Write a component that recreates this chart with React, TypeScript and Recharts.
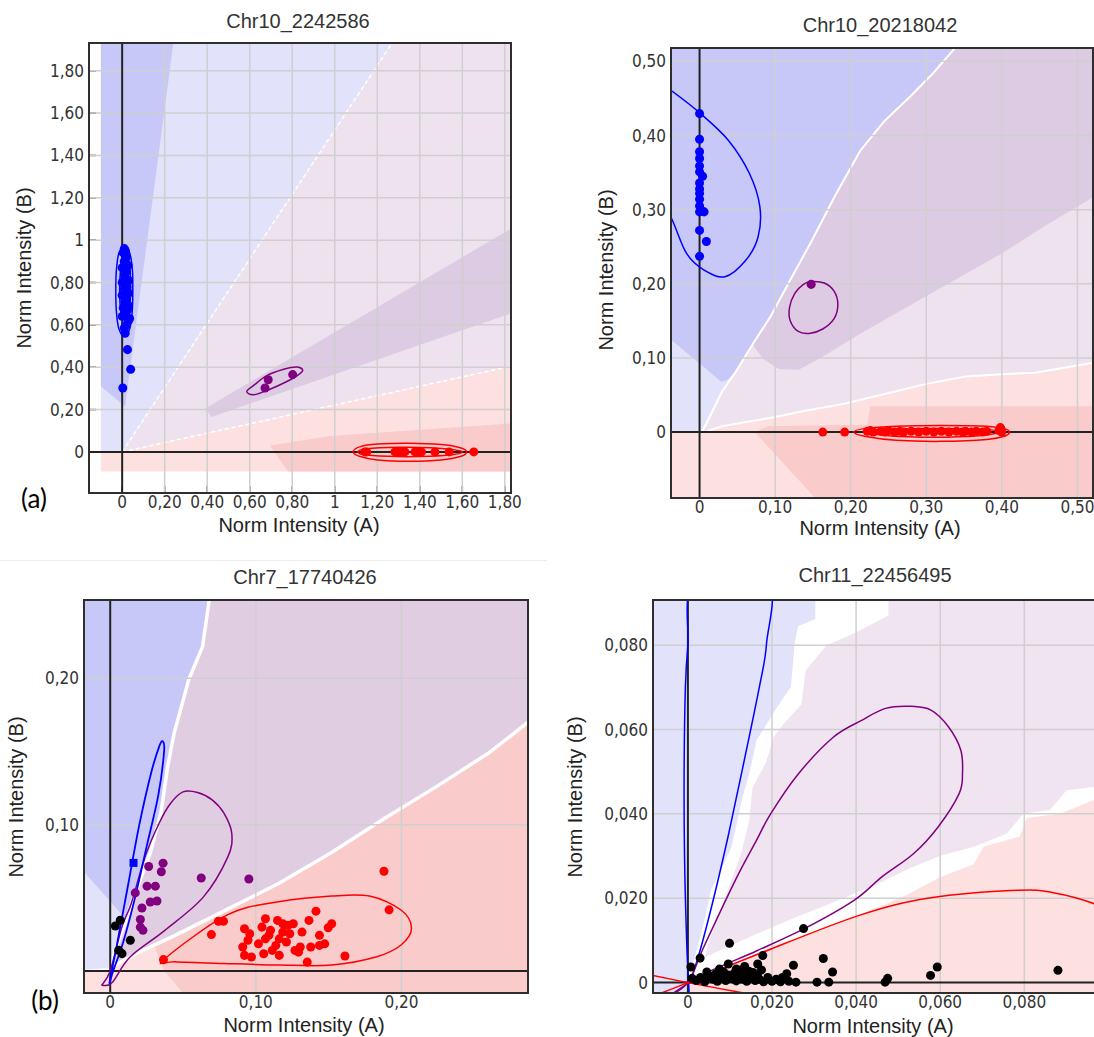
import React from 'react';
import { ScatterChart, Scatter, XAxis, YAxis, ZAxis } from 'recharts';

type Pt = { x: number; y: number };

// ================= Panel 1 : Chr10_2242586 =================
const p1Title = 'Chr10_2242586';
const p1XDomain: [number, number] = [-0.156, 1.829];
const p1YDomain: [number, number] = [-0.194, 1.931];
const p1XTicks = [0, 0.2, 0.4, 0.6, 0.8, 1, 1.2, 1.4, 1.6, 1.8];
const p1XTickLabels = ['0', '0,20', '0,40', '0,60', '0,80', '1', '1,20', '1,40', '1,60', '1,80'];
const p1YTicks = [0, 0.2, 0.4, 0.6, 0.8, 1, 1.2, 1.4, 1.6, 1.8];
const p1YTickLabels = ['0', '0,20', '0,40', '0,60', '0,80', '1', '1,20', '1,40', '1,60', '1,80'];

const p1LavenderRegion: Pt[] = [
  { x: -0.1, y: 0 }, { x: 0, y: 0 }, { x: 1.27, y: 1.931 }, { x: -0.1, y: 1.931 },
];
const p1LightPurpleRegion: Pt[] = [
  { x: 0, y: 0 }, { x: 1.83, y: 0.405 }, { x: 1.83, y: 1.931 }, { x: 1.27, y: 1.931 },
];
const p1LightPinkRegion: Pt[] = [
  { x: -0.1, y: -0.093 }, { x: 1.83, y: -0.093 }, { x: 1.83, y: 0.405 }, { x: 0, y: 0 }, { x: -0.1, y: 0 },
];
const p1BlueWedge: Pt[] = [
  { x: -0.1, y: 1.931 }, { x: 0.241, y: 1.931 }, { x: 0.131, y: 1.1 }, { x: 0.014, y: 0.215 }, { x: -0.1, y: 0.31 },
];
const p1PurpleBand: Pt[] = [
  { x: 0.39, y: 0.205 }, { x: 1.83, y: 1.055 }, { x: 1.83, y: 0.655 }, { x: 0.42, y: 0.165 },
];
const p1PinkBlock: Pt[] = [
  { x: 0.695, y: 0.03 }, { x: 0.98, y: 0.075 }, { x: 1.83, y: 0.135 }, { x: 1.83, y: -0.093 }, { x: 0.78, y: -0.093 },
];
const p1Boundary1: Pt[] = [{ x: 0, y: 0 }, { x: 1.27, y: 1.931 }];
const p1Boundary2: Pt[] = [{ x: 0, y: 0 }, { x: 1.83, y: 0.405 }];

const p1BlueDots: Pt[] = [
  { x: 0.003, y: 0.302 }, { x: 0.04, y: 0.39 }, { x: 0.025, y: 0.483 }, { x: 0.014, y: 0.56 },
  { x: 0.01, y: 0.585 }, { x: 0.02, y: 0.6 }, { x: 0.03, y: 0.62 }, { x: 0.035, y: 0.63 },
  { x: 0.0, y: 0.64 }, { x: 0.015, y: 0.65 }, { x: 0.025, y: 0.67 }, { x: 0.005, y: 0.68 },
  { x: 0.03, y: 0.69 }, { x: 0.012, y: 0.71 }, { x: 0.02, y: 0.72 }, { x: 0.0, y: 0.74 },
  { x: 0.03, y: 0.75 }, { x: 0.01, y: 0.77 }, { x: 0.022, y: 0.78 }, { x: 0.0, y: 0.8 },
  { x: 0.03, y: 0.81 }, { x: 0.012, y: 0.83 }, { x: 0.02, y: 0.85 }, { x: 0.0, y: 0.87 },
  { x: 0.028, y: 0.88 }, { x: 0.01, y: 0.9 }, { x: 0.02, y: 0.92 }, { x: 0.005, y: 0.94 },
  { x: 0.015, y: 0.95 }, { x: 0.01, y: 0.96 },
];
const p1BlueEllipseOuter: Pt[] = [
  { x: 0.01, y: 0.965 }, { x: 0.035, y: 0.94 }, { x: 0.048, y: 0.86 }, { x: 0.05, y: 0.76 },
  { x: 0.047, y: 0.66 }, { x: 0.035, y: 0.58 }, { x: 0.01, y: 0.548 }, { x: -0.015, y: 0.58 },
  { x: -0.027, y: 0.66 }, { x: -0.03, y: 0.76 }, { x: -0.027, y: 0.86 }, { x: -0.015, y: 0.94 },
];
const p1BlueEllipseInner: Pt[] = [
  { x: 0.012, y: 0.93 }, { x: 0.032, y: 0.9 }, { x: 0.04, y: 0.8 }, { x: 0.037, y: 0.7 },
  { x: 0.025, y: 0.635 }, { x: 0.008, y: 0.625 }, { x: -0.006, y: 0.66 }, { x: -0.012, y: 0.76 },
  { x: -0.008, y: 0.86 }, { x: 0.0, y: 0.915 },
];
const p1PurpleDots: Pt[] = [
  { x: 0.687, y: 0.341 }, { x: 0.672, y: 0.302 }, { x: 0.802, y: 0.365 },
];
const p1PurpleEllipse: Pt[] = [
  { x: 0.586, y: 0.285 }, { x: 0.62, y: 0.315 }, { x: 0.68, y: 0.36 }, { x: 0.76, y: 0.39 },
  { x: 0.82, y: 0.401 }, { x: 0.849, y: 0.387 }, { x: 0.83, y: 0.365 }, { x: 0.77, y: 0.33 },
  { x: 0.695, y: 0.296 }, { x: 0.62, y: 0.27 },
];
const p1RedDots: Pt[] = [
  { x: 1.142, y: 0 }, { x: 1.15, y: 0 }, { x: 1.283, y: 0 }, { x: 1.3, y: 0 }, { x: 1.307, y: 0 },
  { x: 1.32, y: 0 }, { x: 1.33, y: 0 }, { x: 1.377, y: 0 }, { x: 1.393, y: 0 }, { x: 1.4, y: 0 },
  { x: 1.408, y: 0 }, { x: 1.471, y: 0 }, { x: 1.538, y: 0 }, { x: 1.654, y: 0 },
];
const p1RedEllipseOuter: Pt[] = [
  { x: 1.087, y: 0 }, { x: 1.12, y: 0.025 }, { x: 1.2, y: 0.037 }, { x: 1.35, y: 0.041 },
  { x: 1.5, y: 0.035 }, { x: 1.59, y: 0.02 }, { x: 1.62, y: 0 }, { x: 1.59, y: -0.022 },
  { x: 1.5, y: -0.038 }, { x: 1.35, y: -0.044 }, { x: 1.2, y: -0.038 }, { x: 1.12, y: -0.022 },
];
const p1RedEllipseInner: Pt[] = [
  { x: 1.11, y: 0 }, { x: 1.15, y: 0.015 }, { x: 1.3, y: 0.022 }, { x: 1.45, y: 0.02 },
  { x: 1.56, y: 0.01 }, { x: 1.6, y: 0 }, { x: 1.56, y: -0.012 }, { x: 1.45, y: -0.02 },
  { x: 1.3, y: -0.022 }, { x: 1.15, y: -0.015 },
];

// ================= Panel 2 : Chr10_20218042 =================
const p2Title = 'Chr10_20218042';
const p2XDomain: [number, number] = [-0.0378, 0.5206];
const p2YDomain: [number, number] = [-0.0889, 0.518];
const p2XTicks = [0, 0.1, 0.2, 0.3, 0.4, 0.5];
const p2XTickLabels = ['0', '0,10', '0,20', '0,30', '0,40', '0,50'];
const p2YTicks = [0, 0.1, 0.2, 0.3, 0.4, 0.5];
const p2YTickLabels = ['0', '0,10', '0,20', '0,30', '0,40', '0,50'];

const p2LavenderBase: Pt[] = [
  { x: -0.05, y: 0 }, { x: 0.55, y: 0 }, { x: 0.55, y: 0.53 }, { x: -0.05, y: 0.53 },
];
const p2Curve1: Pt[] = [
  { x: 0.003, y: 0 }, { x: 0.007, y: 0.0075 }, { x: 0.016, y: 0.026 }, { x: 0.03, y: 0.055 },
  { x: 0.047, y: 0.08 }, { x: 0.07, y: 0.118 }, { x: 0.094, y: 0.156 }, { x: 0.12, y: 0.205 },
  { x: 0.149, y: 0.259 }, { x: 0.18, y: 0.32 }, { x: 0.213, y: 0.38 }, { x: 0.245, y: 0.42 },
  { x: 0.278, y: 0.452 }, { x: 0.31, y: 0.485 }, { x: 0.338, y: 0.518 }, { x: 0.348, y: 0.53 },
];
const p2Curve2: Pt[] = [
  { x: 0.006, y: 0 }, { x: 0.03, y: 0.008 }, { x: 0.058, y: 0.013 }, { x: 0.098, y: 0.02 },
  { x: 0.142, y: 0.029 }, { x: 0.19, y: 0.038 }, { x: 0.26, y: 0.055 }, { x: 0.3, y: 0.065 },
  { x: 0.352, y: 0.075 }, { x: 0.4, y: 0.078 }, { x: 0.444, y: 0.08 }, { x: 0.49, y: 0.088 },
  { x: 0.55, y: 0.099 },
];
const p2LightPurpleRegion: Pt[] = [
  ...p2Curve1, { x: 0.55, y: 0.53 }, ...[...p2Curve2].reverse(),
];
const p2LightPinkRegion: Pt[] = [
  { x: -0.05, y: -0.1 }, { x: 0.55, y: -0.1 }, ...[...p2Curve2].reverse(), { x: -0.05, y: 0 },
];
const p2BlueRegion: Pt[] = [
  { x: -0.05, y: 0.53 }, { x: 0.348, y: 0.53 }, { x: 0.338, y: 0.518 }, { x: 0.31, y: 0.485 },
  { x: 0.278, y: 0.452 }, { x: 0.245, y: 0.42 }, { x: 0.213, y: 0.38 }, { x: 0.18, y: 0.32 },
  { x: 0.149, y: 0.259 }, { x: 0.12, y: 0.205 }, { x: 0.094, y: 0.156 }, { x: 0.07, y: 0.118 },
  { x: 0.047, y: 0.08 }, { x: 0.036, y: 0.07 }, { x: 0.029, y: 0.068 }, { x: -0.05, y: 0.135 },
];
const p2PurpleBand: Pt[] = [
  { x: 0.07, y: 0.118 }, { x: 0.094, y: 0.156 }, { x: 0.12, y: 0.205 }, { x: 0.149, y: 0.259 },
  { x: 0.18, y: 0.32 }, { x: 0.213, y: 0.38 }, { x: 0.245, y: 0.42 }, { x: 0.278, y: 0.452 },
  { x: 0.31, y: 0.485 }, { x: 0.338, y: 0.518 }, { x: 0.348, y: 0.53 }, { x: 0.55, y: 0.53 },
  { x: 0.55, y: 0.325 }, { x: 0.521, y: 0.317 }, { x: 0.46, y: 0.28 }, { x: 0.4, y: 0.241 },
  { x: 0.306, y: 0.187 }, { x: 0.213, y: 0.133 }, { x: 0.16, y: 0.1 }, { x: 0.131, y: 0.084 },
  { x: 0.105, y: 0.085 }, { x: 0.085, y: 0.098 },
];
const p2PinkBlock: Pt[] = [
  { x: 0.073, y: 0 }, { x: 0.09, y: 0.008 }, { x: 0.14, y: 0.009 }, { x: 0.222, y: 0.01 },
  { x: 0.226, y: 0.035 }, { x: 0.55, y: 0.035 }, { x: 0.55, y: -0.1 }, { x: 0.163, y: -0.1 },
];
const p2BlueDots: Pt[] = [
  { x: 0, y: 0.4295 }, { x: 0, y: 0.395 }, { x: 0, y: 0.378 }, { x: 0, y: 0.369 }, { x: 0, y: 0.359 },
  { x: 0, y: 0.351 }, { x: 0.004, y: 0.345 }, { x: 0, y: 0.336 }, { x: 0, y: 0.328 }, { x: 0, y: 0.322 },
  { x: 0, y: 0.314 }, { x: 0, y: 0.305 }, { x: 0, y: 0.297 }, { x: 0.006, y: 0.297 }, { x: 0.002, y: 0.299 },
  { x: 0, y: 0.272 }, { x: 0.009, y: 0.257 }, { x: 0, y: 0.237 },
];
const p2BlueEllipse: Pt[] = [
  { x: 0.0014, y: 0.4295 }, { x: 0.038, y: 0.3936 }, { x: 0.066, y: 0.3487 }, { x: 0.0798, y: 0.3038 },
  { x: 0.0775, y: 0.2634 }, { x: 0.0614, y: 0.232 }, { x: 0.0337, y: 0.2095 }, { x: 0.006, y: 0.2185 },
  { x: -0.0172, y: 0.241 }, { x: -0.038, y: 0.29 }, { x: -0.065, y: 0.34 }, { x: -0.09, y: 0.41 },
  { x: -0.085, y: 0.47 }, { x: -0.06, y: 0.475 }, { x: -0.038, y: 0.461 },
];
const p2PurpleDots: Pt[] = [{ x: 0.1477, y: 0.1992 }];
const p2PurpleEllipse: Pt[] = [
  { x: 0.148, y: 0.203 }, { x: 0.165, y: 0.201 }, { x: 0.178, y: 0.19 }, { x: 0.183, y: 0.172 },
  { x: 0.178, y: 0.153 }, { x: 0.163, y: 0.139 }, { x: 0.145, y: 0.133 }, { x: 0.13, y: 0.136 },
  { x: 0.12, y: 0.15 }, { x: 0.119, y: 0.168 }, { x: 0.126, y: 0.187 }, { x: 0.137, y: 0.199 },
];
const p2RedDots: Pt[] = [
  { x: 0.163, y: 0 }, { x: 0.192, y: 0 }, { x: 0.222, y: 0.001 }, { x: 0.226, y: 0.002 }, { x: 0.23, y: 0 },
  { x: 0.24, y: 0.001 }, { x: 0.245, y: 0 }, { x: 0.25, y: 0.002 }, { x: 0.258, y: 0 }, { x: 0.265, y: 0.001 },
  { x: 0.27, y: 0 }, { x: 0.28, y: 0.001 }, { x: 0.29, y: 0 }, { x: 0.3, y: 0.001 }, { x: 0.31, y: 0 },
  { x: 0.32, y: 0.001 }, { x: 0.33, y: 0 }, { x: 0.34, y: 0.001 }, { x: 0.348, y: 0 }, { x: 0.352, y: 0.001 },
  { x: 0.36, y: 0 }, { x: 0.366, y: 0.001 }, { x: 0.375, y: 0 }, { x: 0.38, y: 0.001 }, { x: 0.396, y: 0.002 },
  { x: 0.398, y: 0.006 }, { x: 0.4, y: 0 }, { x: 0.399, y: 0.004 },
];
const p2RedEllipseOuter: Pt[] = [
  { x: 0.204, y: 0 }, { x: 0.22, y: 0.005 }, { x: 0.26, y: 0.008 }, { x: 0.32, y: 0.009 },
  { x: 0.38, y: 0.008 }, { x: 0.405, y: 0.004 }, { x: 0.41, y: 0 }, { x: 0.405, y: -0.005 },
  { x: 0.38, y: -0.01 }, { x: 0.32, y: -0.0125 }, { x: 0.26, y: -0.011 }, { x: 0.22, y: -0.006 },
];
const p2RedEllipseInner: Pt[] = [
  { x: 0.225, y: 0 }, { x: 0.25, y: 0.004 }, { x: 0.31, y: 0.005 }, { x: 0.37, y: 0.004 },
  { x: 0.395, y: 0 }, { x: 0.37, y: -0.005 }, { x: 0.31, y: -0.007 }, { x: 0.25, y: -0.005 },
];

// ================= Panel 3 : Chr7_17740426 =================
const p3Title = 'Chr7_17740426';
const p3XDomain: [number, number] = [-0.018, 0.2869];
const p3YDomain: [number, number] = [-0.015, 0.2535];
const p3XTicks = [0, 0.1, 0.2];
const p3XTickLabels = ['0', '0,10', '0,20'];
const p3YTicks = [0.1, 0.2];
const p3YTickLabels = ['0,10', '0,20'];

const p3Curve1: Pt[] = [
  { x: 0.0, y: 0.002 }, { x: 0.0036, y: 0.0146 }, { x: 0.011, y: 0.035 }, { x: 0.0156, y: 0.049 },
  { x: 0.0276, y: 0.081 }, { x: 0.0348, y: 0.108 }, { x: 0.0395, y: 0.14 }, { x: 0.044, y: 0.163 },
  { x: 0.049, y: 0.181 }, { x: 0.0539, y: 0.199 }, { x: 0.0634, y: 0.2216 }, { x: 0.068, y: 0.2535 },
  { x: 0.07, y: 0.27 },
];
const p3Curve2: Pt[] = [
  { x: 0.003, y: 0.004 }, { x: 0.02, y: 0.013 }, { x: 0.044, y: 0.024 }, { x: 0.08, y: 0.042 },
  { x: 0.116, y: 0.06 }, { x: 0.152, y: 0.081 }, { x: 0.188, y: 0.104 }, { x: 0.224, y: 0.126 },
  { x: 0.26, y: 0.149 }, { x: 0.287, y: 0.17 }, { x: 0.3, y: 0.178 },
];
const p3LightPinkRegion: Pt[] = [
  { x: -0.03, y: -0.03 }, { x: 0.3, y: -0.03 }, ...[...p3Curve2].reverse(), { x: 0, y: 0 }, { x: -0.03, y: 0 },
];
const p3LavenderRegion: Pt[] = [
  { x: -0.03, y: 0 }, { x: 0, y: 0.002 }, { x: 0.0036, y: 0.0146 }, { x: 0.011, y: 0.035 },
  { x: -0.018, y: 0.0677 }, { x: -0.03, y: 0.08 },
];
const p3BlueRegion: Pt[] = [
  { x: -0.03, y: 0.08 }, { x: -0.018, y: 0.0677 }, { x: 0.011, y: 0.035 }, { x: 0.0156, y: 0.049 },
  { x: 0.0276, y: 0.081 }, { x: 0.0348, y: 0.108 }, { x: 0.0395, y: 0.14 }, { x: 0.044, y: 0.163 },
  { x: 0.049, y: 0.181 }, { x: 0.0539, y: 0.199 }, { x: 0.0634, y: 0.2216 }, { x: 0.068, y: 0.2535 },
  { x: 0.07, y: 0.27 }, { x: -0.03, y: 0.27 },
];
const p3PurpleRegion: Pt[] = [
  ...[...p3Curve1].reverse(), ...p3Curve2, { x: 0.3, y: 0.27 },
];
const p3PinkBlock: Pt[] = [
  { x: 0.03, y: 0.0185 }, { x: 0.044, y: 0.024 }, { x: 0.08, y: 0.042 }, { x: 0.116, y: 0.06 },
  { x: 0.152, y: 0.081 }, { x: 0.188, y: 0.104 }, { x: 0.224, y: 0.126 }, { x: 0.26, y: 0.149 },
  { x: 0.287, y: 0.17 }, { x: 0.3, y: 0.178 }, { x: 0.3, y: -0.03 }, { x: 0.063, y: -0.03 }, { x: 0.037, y: 0 },
];
const p3PurpleDots: Pt[] = [
  { x: 0.0264, y: 0.0714 }, { x: 0.0363, y: 0.0737 }, { x: 0.0351, y: 0.0678 }, { x: 0.0625, y: 0.0636 },
  { x: 0.0952, y: 0.0629 }, { x: 0.0172, y: 0.0534 }, { x: 0.0253, y: 0.058 }, { x: 0.031, y: 0.058 },
  { x: 0.0218, y: 0.0431 }, { x: 0.0275, y: 0.0472 }, { x: 0.0321, y: 0.0479 }, { x: 0.0207, y: 0.0352 },
  { x: 0.0207, y: 0.03 }, { x: 0.0225, y: 0.0278 },
];
const p3BlackDots: Pt[] = [
  { x: 0.0035, y: 0.0308 }, { x: 0.0069, y: 0.0347 }, { x: 0.0138, y: 0.021 }, { x: 0.0058, y: 0.0142 },
  { x: 0.0081, y: 0.0119 },
];
const p3BlueDots: Pt[] = [{ x: 0.016, y: 0.0739 }];
const p3BlueLoop: Pt[] = [
  { x: -0.0004, y: -0.0075 }, { x: 0.005, y: 0.02 }, { x: 0.0125, y: 0.06 }, { x: 0.02, y: 0.1 },
  { x: 0.028, y: 0.135 }, { x: 0.0335, y: 0.153 }, { x: 0.036, y: 0.157 }, { x: 0.037, y: 0.15 },
  { x: 0.033, y: 0.12 }, { x: 0.025, y: 0.085 }, { x: 0.017, y: 0.05 }, { x: 0.009, y: 0.02 },
  { x: 0.002, y: 0.0 },
];
const p3PurpleLoop: Pt[] = [
  { x: -0.006, y: -0.0098 }, { x: 0.0, y: 0.0 }, { x: 0.008, y: 0.03 }, { x: 0.0144, y: 0.046 },
  { x: 0.0239, y: 0.078 }, { x: 0.0335, y: 0.1008 }, { x: 0.041, y: 0.114 }, { x: 0.05, y: 0.1224 },
  { x: 0.06, y: 0.122 }, { x: 0.07, y: 0.117 }, { x: 0.078, y: 0.108 }, { x: 0.0835, y: 0.094 },
  { x: 0.0807, y: 0.0778 }, { x: 0.0639, y: 0.0505 }, { x: 0.0375, y: 0.0278 }, { x: 0.0136, y: 0.0096 },
  { x: 0.0012, y: -0.008 }, { x: -0.006, y: -0.0098 },
];
const p3RedDots: Pt[] = [
  { x: 0.188, y: 0.0682 }, { x: 0.1915, y: 0.0418 }, { x: 0.0366, y: 0.0078 }, { x: 0.0695, y: 0.0249 },
  { x: 0.0743, y: 0.034 }, { x: 0.0778, y: 0.034 }, { x: 0.1612, y: 0.0103 }, { x: 0.1413, y: 0.0409 },
  { x: 0.1365, y: 0.0346 }, { x: 0.1521, y: 0.0323 }, { x: 0.1497, y: 0.0296 }, { x: 0.1437, y: 0.0244 },
  { x: 0.1473, y: 0.0186 }, { x: 0.1437, y: 0.0175 }, { x: 0.1353, y: 0.0061 }, { x: 0.1305, y: 0.0164 },
  { x: 0.1377, y: 0.0164 }, { x: 0.1257, y: 0.0323 }, { x: 0.1233, y: 0.0255 }, { x: 0.1185, y: 0.0323 },
  { x: 0.1149, y: 0.0346 }, { x: 0.1066, y: 0.0357 }, { x: 0.1042, y: 0.03 }, { x: 0.1101, y: 0.0278 },
  { x: 0.1161, y: 0.022 }, { x: 0.121, y: 0.0198 }, { x: 0.1137, y: 0.0175 }, { x: 0.1066, y: 0.022 },
  { x: 0.1054, y: 0.0118 }, { x: 0.1161, y: 0.0107 }, { x: 0.1269, y: 0.0141 }, { x: 0.0922, y: 0.0289 },
  { x: 0.0958, y: 0.0255 }, { x: 0.091, y: 0.0164 }, { x: 0.0946, y: 0.021 }, { x: 0.0922, y: 0.0107 },
  { x: 0.097, y: 0.0096 }, { x: 0.109, y: 0.0244 }, { x: 0.1185, y: 0.0266 }, { x: 0.1221, y: 0.0312 },
  { x: 0.1317, y: 0.0266 }, { x: 0.1293, y: 0.0129 }, { x: 0.1113, y: 0.0141 }, { x: 0.1018, y: 0.0186 },
];
const p3RedEllipse: Pt[] = [
  { x: 0.0366, y: 0.0076 }, { x: 0.08, y: 0.0382 }, { x: 0.1157, y: 0.0473 }, { x: 0.152, y: 0.0512 },
  { x: 0.178, y: 0.0512 }, { x: 0.1997, y: 0.0417 }, { x: 0.2069, y: 0.0292 }, { x: 0.1997, y: 0.0178 },
  { x: 0.183, y: 0.0098 }, { x: 0.152, y: 0.0041 }, { x: 0.116, y: 0.0041 }, { x: 0.0778, y: 0.0052 },
  { x: 0.0446, y: 0.0064 },
];

// ================= Panel 4 : Chr11_22456495 =================
const p4Title = 'Chr11_22456495';
const p4XDomain: [number, number] = [-0.0083, 0.098];
const p4YDomain: [number, number] = [-0.00247, 0.0907];
const p4XTicks = [0, 0.02, 0.04, 0.06, 0.08];
const p4XTickLabels = ['0', '0,020', '0,040', '0,060', '0,080'];
const p4YTicks = [0, 0.02, 0.04, 0.06, 0.08];
const p4YTickLabels = ['0', '0,020', '0,040', '0,060', '0,080'];

const p4LavenderRegion: Pt[] = [
  { x: -0.01, y: -0.005 }, { x: -0.01, y: 0.095 }, { x: 0.0303, y: 0.095 }, { x: 0.0303, y: 0.0862 },
  { x: 0.0262, y: 0.0845 }, { x: 0.0254, y: 0.0804 }, { x: 0.0245, y: 0.0701 }, { x: 0.0212, y: 0.0653 },
  { x: 0.0163, y: 0.0574 }, { x: 0.0146, y: 0.0495 }, { x: 0.013, y: 0.044 }, { x: 0.0104, y: 0.0322 },
  { x: 0.008, y: 0.027 }, { x: 0.0055, y: 0.022 }, { x: 0.004, y: 0.015 }, { x: 0.0015, y: 0.0055 },
  { x: 0.0, y: 0.003 }, { x: 0.0, y: -0.005 },
];
const p4PurpleRegion: Pt[] = [
  { x: 0.0477, y: 0.095 }, { x: 0.0477, y: 0.087 }, { x: 0.04, y: 0.083 }, { x: 0.033, y: 0.08 },
  { x: 0.028, y: 0.074 }, { x: 0.027, y: 0.066 }, { x: 0.0225, y: 0.061 }, { x: 0.0204, y: 0.0582 },
  { x: 0.0185, y: 0.052 }, { x: 0.0154, y: 0.0463 }, { x: 0.0145, y: 0.038 }, { x: 0.0125, y: 0.03 },
  { x: 0.0104, y: 0.0244 }, { x: 0.008, y: 0.018 }, { x: 0.0054, y: 0.0109 }, { x: 0.004, y: 0.006 },
  { x: 0.0163, y: 0.0115 }, { x: 0.0245, y: 0.015 }, { x: 0.0345, y: 0.019 }, { x: 0.0453, y: 0.0235 },
  { x: 0.0525, y: 0.027 }, { x: 0.0599, y: 0.03 }, { x: 0.068, y: 0.0322 }, { x: 0.0758, y: 0.0353 },
  { x: 0.0798, y: 0.0401 }, { x: 0.0861, y: 0.0409 }, { x: 0.0901, y: 0.0456 }, { x: 0.0966, y: 0.0464 },
  { x: 0.105, y: 0.047 }, { x: 0.105, y: 0.095 },
];
const p4PinkRegion: Pt[] = [
  { x: 0.002, y: 0.0 }, { x: 0.01, y: 0.004 }, { x: 0.0202, y: 0.0088 }, { x: 0.0314, y: 0.0122 },
  { x: 0.0409, y: 0.016 }, { x: 0.0525, y: 0.021 }, { x: 0.0599, y: 0.025 }, { x: 0.0679, y: 0.028 },
  { x: 0.0703, y: 0.0322 }, { x: 0.0789, y: 0.0346 }, { x: 0.0805, y: 0.039 }, { x: 0.0885, y: 0.04 },
  { x: 0.0966, y: 0.0433 }, { x: 0.105, y: 0.044 }, { x: 0.105, y: -0.005 }, { x: 0.0, y: -0.005 },
  { x: 0.0, y: 0.0 },
];
const p4BlueLoop: Pt[] = [
  { x: 0.0003, y: -0.0025 }, { x: -0.0003, y: 0.01 }, { x: -0.0008, y: 0.03 }, { x: -0.0009, y: 0.05 },
  { x: -0.0006, y: 0.07 }, { x: 0.0, y: 0.08 }, { x: 0.0017, y: 0.095 }, { x: 0.0188, y: 0.095 },
  { x: 0.0187, y: 0.0804 }, { x: 0.017, y: 0.0701 }, { x: 0.0129, y: 0.0503 }, { x: 0.0095, y: 0.0344 },
  { x: 0.0062, y: 0.0203 }, { x: 0.0029, y: 0.0076 }, { x: 0.0004, y: -0.0003 },
];
const p4PurpleLoop: Pt[] = [
  { x: -0.005, y: -0.0035 }, { x: 0.0, y: 0.0 }, { x: 0.0038, y: 0.0085 }, { x: 0.0113, y: 0.0243 },
  { x: 0.0163, y: 0.0337 }, { x: 0.0196, y: 0.0399 }, { x: 0.0262, y: 0.0494 }, { x: 0.0345, y: 0.0581 },
  { x: 0.0412, y: 0.0621 }, { x: 0.047, y: 0.065 }, { x: 0.0528, y: 0.0655 }, { x: 0.0578, y: 0.0646 },
  { x: 0.062, y: 0.0606 }, { x: 0.0649, y: 0.0551 }, { x: 0.0653, y: 0.0496 }, { x: 0.0645, y: 0.0448 },
  { x: 0.0595, y: 0.0369 }, { x: 0.0537, y: 0.0306 }, { x: 0.0462, y: 0.0251 }, { x: 0.0395, y: 0.0195 },
  { x: 0.0279, y: 0.0129 }, { x: 0.0163, y: 0.0075 }, { x: 0.0038, y: 0.002 }, { x: -0.005, y: -0.0035 },
];
const p4RedUpper: Pt[] = [
  { x: -0.009, y: -0.0035 }, { x: 0.0, y: 0.0 }, { x: 0.0163, y: 0.0066 }, { x: 0.0409, y: 0.016 },
  { x: 0.0578, y: 0.0201 }, { x: 0.0786, y: 0.0219 }, { x: 0.0869, y: 0.0213 }, { x: 0.0966, y: 0.0187 },
  { x: 0.104, y: 0.015 },
];
const p4RedLower: Pt[] = [
  { x: -0.01, y: 0.002 }, { x: 0.0, y: 0.0 }, { x: 0.0139, y: -0.0026 }, { x: 0.02, y: -0.0037 },
];
const p4BlackDots: Pt[] = [
  { x: 0.0275, y: 0.0128 }, { x: 0.0099, y: 0.0093 }, { x: 0.0029, y: 0.0058 }, { x: 0.0007, y: 0.0037 },
  { x: 0.0178, y: 0.0064 }, { x: 0.0166, y: 0.0044 }, { x: 0.0251, y: 0.0041 }, { x: 0.0322, y: 0.0057 },
  { x: 0.0344, y: 0.0025 }, { x: 0.0593, y: 0.0037 }, { x: 0.0577, y: 0.0017 }, { x: 0.088, y: 0.0029 },
  { x: 0.0469, y: 0.0001 }, { x: 0.0475, y: 0.001 }, { x: 0.0307, y: 0.0001 }, { x: 0.0335, y: 0.0001 },
  { x: 0.0257, y: 0.0001 }, { x: 0.0235, y: 0.0021 }, { x: 0.0096, y: 0.0044 },
  { x: 0.001, y: 0.001 }, { x: 0.002, y: 0.0005 }, { x: 0.003, y: 0.0012 }, { x: 0.004, y: 0.0002 },
  { x: 0.005, y: 0.0015 }, { x: 0.006, y: 0.0008 }, { x: 0.0065, y: 0.002 }, { x: 0.007, y: 0.0003 },
  { x: 0.008, y: 0.0012 }, { x: 0.0085, y: 0.0025 }, { x: 0.009, y: 0.0005 }, { x: 0.0095, y: 0.0018 },
  { x: 0.0105, y: 0.0009 }, { x: 0.011, y: 0.0022 }, { x: 0.0115, y: 0.0004 }, { x: 0.012, y: 0.0015 },
  { x: 0.0125, y: 0.003 }, { x: 0.013, y: 0.0008 }, { x: 0.0135, y: 0.002 }, { x: 0.014, y: 0.0003 },
  { x: 0.0145, y: 0.0027 }, { x: 0.015, y: 0.0012 }, { x: 0.0155, y: 0.0024 }, { x: 0.016, y: 0.0005 },
  { x: 0.0165, y: 0.0018 }, { x: 0.017, y: 0.0008 }, { x: 0.0175, y: 0.003 }, { x: 0.018, y: 0.0002 },
  { x: 0.019, y: 0.0012 }, { x: 0.02, y: 0.0003 }, { x: 0.021, y: 0.0008 }, { x: 0.022, y: 0.0002 },
  { x: 0.0225, y: 0.0012 }, { x: 0.024, y: 0.0003 }, { x: 0.0045, y: 0.0025 }, { x: 0.0075, y: 0.0032 },
  { x: 0.0115, y: 0.0032 }, { x: 0.0135, y: 0.0038 },
];

// ================= colours =================
const C = {
  lavender: '#e2e2fa',
  blueDark: '#c8c8f8',
  purpleLight: '#eee2ef',
  purpleDark: '#ddcae3',
  pinkLight: '#fde1e1',
  pinkDark: '#f9cbcb',
  grid: '#cfcfcf',
  axis: '#222222',
  blue: '#0000ff',
  purple: '#800080',
  red: '#ff0000',
  black: '#000000',
};

// ================= rendering helpers =================
type Layer =
  | { kind: 'fill'; data: Pt[]; color: string }
  | { kind: 'line'; data: Pt[]; color: string; width: number; closed?: boolean; smooth?: boolean; dash?: string }
  | { kind: 'dots'; data: Pt[]; color: string; shape?: 'circle' | 'square' };

function buildPath(pts: { x: number; y: number }[], closed: boolean, smooth: boolean): string {
  const p = pts.filter((q) => q && Number.isFinite(q.x) && Number.isFinite(q.y));
  if (p.length < 2) return '';
  const n = p.length;
  let d = `M${p[0].x},${p[0].y}`;
  if (!smooth) {
    for (let i = 1; i < n; i++) d += `L${p[i].x},${p[i].y}`;
    return closed ? d + 'Z' : d;
  }
  const get = (i: number) => (closed ? p[(i + n) % n] : p[Math.max(0, Math.min(n - 1, i))]);
  const segs = closed ? n : n - 1;
  for (let i = 0; i < segs; i++) {
    const p0 = get(i - 1), p1 = get(i), p2 = get(i + 1), p3 = get(i + 2);
    const c1x = p1.x + (p2.x - p0.x) / 6, c1y = p1.y + (p2.y - p0.y) / 6;
    const c2x = p2.x - (p3.x - p1.x) / 6, c2y = p2.y - (p3.y - p1.y) / 6;
    d += `C${c1x},${c1y} ${c2x},${c2y} ${p2.x},${p2.y}`;
  }
  return closed ? d + 'Z' : d;
}

const noShape = () => <g />;

const fillLine = (color: string) => (props: any) => (
  <path d={buildPath(props.points || [], true, false)} fill={color} stroke="none" />
);
const strokeLine = (color: string, width: number, closed: boolean, smooth: boolean, dash?: string) => (props: any) => (
  <path
    d={buildPath(props.points || [], closed, smooth)}
    fill="none"
    stroke={color}
    strokeWidth={width}
    strokeDasharray={dash}
    strokeLinejoin="round"
  />
);

type Box = { left: number; top: number; right: number; bottom: number };

type PanelCfg = {
  title: string;
  box: Box;
  xDomain: [number, number];
  yDomain: [number, number];
  xTicks: number[];
  xLabels: string[];
  yTicks: number[];
  yLabels: string[];
  dotSize: number;
  regions: Layer[];
  marks: Layer[];
  noRightBorder?: boolean;
};

const tickFont = "'Liberation Sans Narrow', 'Arial Narrow', 'DejaVu Sans Condensed', 'Liberation Sans', sans-serif";
const textFont = "'Liberation Sans', Arial, sans-serif";

function labelFor(ticks: number[], labels: string[]) {
  return (v: number) => {
    const i = ticks.findIndex((t) => Math.abs(t - v) < 1e-9);
    return i >= 0 ? labels[i] : '';
  };
}

function renderLayer(l: Layer, key: string) {
  if (l.kind === 'fill') {
    return (
      <Scatter key={key} data={l.data} shape={noShape} line={fillLine(l.color)} isAnimationActive={false} legendType="none" />
    );
  }
  if (l.kind === 'line') {
    return (
      <Scatter
        key={key}
        data={l.data}
        shape={noShape}
        line={strokeLine(l.color, l.width, !!l.closed, !!l.smooth, l.dash)}
        isAnimationActive={false}
        legendType="none"
      />
    );
  }
  return (
    <Scatter key={key} data={l.data} fill={l.color} shape={l.shape || 'circle'} isAnimationActive={false} legendType="none" />
  );
}

const Y_AXIS_W = 60;
const X_AXIS_H = 35;
const M_TOP = 10;
const M_RIGHT = 10;

function Panel({ cfg }: { cfg: PanelCfg }) {
  const { box } = cfg;
  const w = box.right - box.left;
  const h = box.bottom - box.top;
  const [x0, x1] = cfg.xDomain;
  const [y0, y1] = cfg.yDomain;
  const gridX = cfg.xTicks.filter((t) => t !== 0).map((t) => [{ x: t, y: y0 }, { x: t, y: y1 }]);
  const gridY = cfg.yTicks.filter((t) => t !== 0).map((t) => [{ x: x0, y: t }, { x: x1, y: t }]);
  const zeroV = [{ x: 0, y: y0 }, { x: 0, y: y1 }];
  const zeroH = [{ x: x0, y: 0 }, { x: x1, y: 0 }];
  return (
    <>
      <div style={{ position: 'absolute', left: box.left - Y_AXIS_W, top: box.top - M_TOP }}>
        <ScatterChart
          width={w + Y_AXIS_W + M_RIGHT}
          height={h + M_TOP + X_AXIS_H}
          margin={{ top: M_TOP, right: M_RIGHT, bottom: 0, left: 0 }}
        >
          <XAxis
            type="number"
            dataKey="x"
            domain={cfg.xDomain}
            allowDataOverflow
            ticks={cfg.xTicks}
            interval={0}
            tickFormatter={labelFor(cfg.xTicks, cfg.xLabels)}
            axisLine={false}
            tickLine={{ stroke: '#333', strokeWidth: 1.5 }}
            tickSize={-7}
            tickMargin={10}
            height={X_AXIS_H}
            tick={{ fill: '#333', fontSize: 17, fontFamily: tickFont }}
          />
          <YAxis
            type="number"
            dataKey="y"
            domain={cfg.yDomain}
            allowDataOverflow
            ticks={cfg.yTicks}
            interval={0}
            tickFormatter={labelFor(cfg.yTicks, cfg.yLabels)}
            axisLine={false}
            tickLine={{ stroke: '#333', strokeWidth: 1.5 }}
            tickSize={-7}
            tickMargin={12}
            width={Y_AXIS_W}
            tick={{ fill: '#333', fontSize: 17, fontFamily: tickFont }}
          />
          <ZAxis range={[cfg.dotSize, cfg.dotSize]} />
          {cfg.regions.map((l, i) => renderLayer(l, `r${i}`))}
          {gridX.map((d, i) => renderLayer({ kind: 'line', data: d, color: C.grid, width: 1.5 }, `gx${i}`))}
          {gridY.map((d, i) => renderLayer({ kind: 'line', data: d, color: C.grid, width: 1.5 }, `gy${i}`))}
          {renderLayer({ kind: 'line', data: zeroV, color: C.axis, width: 2 }, 'zv')}
          {renderLayer({ kind: 'line', data: zeroH, color: C.axis, width: 2 }, 'zh')}
          {cfg.marks.map((l, i) => renderLayer(l, `m${i}`))}
        </ScatterChart>
      </div>
      <div
        style={{
          position: 'absolute',
          left: box.left - 1,
          top: box.top - 1,
          width: w + 2,
          height: h + 2,
          boxSizing: 'border-box',
          border: '2px solid #2e2e2e',
          borderRight: cfg.noRightBorder ? 'none' : '2px solid #2e2e2e',
          pointerEvents: 'none',
        }}
      />
    </>
  );
}

const panel1: PanelCfg = {
  title: p1Title,
  box: { left: 89, top: 43, right: 511, bottom: 493 },
  xDomain: p1XDomain, yDomain: p1YDomain,
  xTicks: p1XTicks, xLabels: p1XTickLabels, yTicks: p1YTicks, yLabels: p1YTickLabels,
  dotSize: 64,
  regions: [
    { kind: 'fill', data: p1LavenderRegion, color: C.lavender },
    { kind: 'fill', data: p1LightPurpleRegion, color: C.purpleLight },
    { kind: 'fill', data: p1LightPinkRegion, color: C.pinkLight },
    { kind: 'fill', data: p1BlueWedge, color: C.blueDark },
    { kind: 'fill', data: p1PurpleBand, color: C.purpleDark },
    { kind: 'fill', data: p1PinkBlock, color: C.pinkDark },
    { kind: 'line', data: p1Boundary1, color: '#ffffff', width: 1.5, dash: '4 3' },
    { kind: 'line', data: p1Boundary2, color: '#ffffff', width: 1.5, dash: '4 3' },
  ],
  marks: [
    { kind: 'dots', data: p1BlueDots, color: C.blue },
    { kind: 'line', data: p1BlueEllipseOuter, color: C.blue, width: 1.5, closed: true, smooth: true },
    { kind: 'line', data: p1BlueEllipseInner, color: C.blue, width: 1.5, closed: true, smooth: true },
    { kind: 'line', data: p1PurpleEllipse, color: C.purple, width: 1.5, closed: true, smooth: true },
    { kind: 'dots', data: p1PurpleDots, color: C.purple },
    { kind: 'line', data: p1RedEllipseOuter, color: C.red, width: 1.5, closed: true, smooth: true },
    { kind: 'line', data: p1RedEllipseInner, color: C.red, width: 1.5, closed: true, smooth: true },
    { kind: 'dots', data: p1RedDots, color: C.red },
  ],
};

const panel2: PanelCfg = {
  title: p2Title,
  box: { left: 671, top: 48, right: 1093, bottom: 498 },
  xDomain: p2XDomain, yDomain: p2YDomain,
  xTicks: p2XTicks, xLabels: p2XTickLabels, yTicks: p2YTicks, yLabels: p2YTickLabels,
  dotSize: 60,
  regions: [
    { kind: 'fill', data: p2LavenderBase, color: C.lavender },
    { kind: 'fill', data: p2LightPurpleRegion, color: C.purpleLight },
    { kind: 'fill', data: p2LightPinkRegion, color: C.pinkLight },
    { kind: 'fill', data: p2BlueRegion, color: C.blueDark },
    { kind: 'fill', data: p2PurpleBand, color: C.purpleDark },
    { kind: 'fill', data: p2PinkBlock, color: C.pinkDark },
    { kind: 'line', data: p2Curve1, color: '#ffffff', width: 2 },
    { kind: 'line', data: p2Curve2, color: '#ffffff', width: 2 },
  ],
  marks: [
    { kind: 'line', data: p2BlueEllipse, color: C.blue, width: 1.5, closed: true, smooth: true },
    { kind: 'dots', data: p2BlueDots, color: C.blue },
    { kind: 'line', data: p2PurpleEllipse, color: C.purple, width: 1.5, closed: true, smooth: true },
    { kind: 'dots', data: p2PurpleDots, color: C.purple },
    { kind: 'line', data: p2RedEllipseOuter, color: C.red, width: 1.5, closed: true, smooth: true },
    { kind: 'line', data: p2RedEllipseInner, color: C.red, width: 1.5, closed: true, smooth: true },
    { kind: 'dots', data: p2RedDots, color: C.red },
  ],
};

const panel3: PanelCfg = {
  title: p3Title,
  box: { left: 84, top: 600, right: 528, bottom: 993 },
  xDomain: p3XDomain, yDomain: p3YDomain,
  xTicks: p3XTicks, xLabels: p3XTickLabels, yTicks: p3YTicks, yLabels: p3YTickLabels,
  dotSize: 64,
  regions: [
    { kind: 'fill', data: p3LightPinkRegion, color: C.pinkLight },
    { kind: 'fill', data: p3LavenderRegion, color: C.lavender },
    { kind: 'fill', data: p3BlueRegion, color: C.blueDark },
    { kind: 'fill', data: p3PurpleRegion, color: '#e1cde2' },
    { kind: 'fill', data: p3PinkBlock, color: C.pinkDark },
    { kind: 'line', data: p3Curve1, color: '#ffffff', width: 3.5 },
    { kind: 'line', data: p3Curve2, color: '#ffffff', width: 3.5 },
  ],
  marks: [
    { kind: 'line', data: p3PurpleLoop, color: C.purple, width: 1.5, smooth: true },
    { kind: 'line', data: p3BlueLoop, color: C.blue, width: 1.8, closed: true, smooth: true },
    { kind: 'line', data: p3RedEllipse, color: C.red, width: 1.5, closed: true, smooth: true },
    { kind: 'dots', data: p3PurpleDots, color: C.purple },
    { kind: 'dots', data: p3BlackDots, color: C.black },
    { kind: 'dots', data: p3BlueDots, color: C.blue, shape: 'square' },
    { kind: 'dots', data: p3RedDots, color: C.red },
  ],
};

const panel4: PanelCfg = {
  title: p4Title,
  box: { left: 653, top: 600, right: 1100, bottom: 993 },
  xDomain: p4XDomain, yDomain: p4YDomain,
  xTicks: p4XTicks, xLabels: p4XTickLabels, yTicks: p4YTicks, yLabels: p4YTickLabels,
  dotSize: 56,
  noRightBorder: true,
  regions: [
    { kind: 'fill', data: p4LavenderRegion, color: C.lavender },
    { kind: 'fill', data: p4PurpleRegion, color: '#efe4f0' },
    { kind: 'fill', data: p4PinkRegion, color: '#fde0e0' },
  ],
  marks: [
    { kind: 'line', data: p4BlueLoop, color: C.blue, width: 1.5, smooth: true },
    { kind: 'line', data: p4PurpleLoop, color: C.purple, width: 1.5, smooth: true },
    { kind: 'line', data: p4RedUpper, color: C.red, width: 1.5, smooth: true },
    { kind: 'line', data: p4RedLower, color: C.red, width: 1.5, smooth: true },
    { kind: 'dots', data: p4BlackDots, color: C.black },
  ],
};

const textBase: React.CSSProperties = {
  position: 'absolute',
  transform: 'translate(-50%, -50%)',
  whiteSpace: 'nowrap',
  fontFamily: textFont,
  lineHeight: 1,
};

function Txt({ x, y, size, color, rotate, font, children }: any) {
  return (
    <div
      style={{
        ...textBase,
        left: x,
        top: y,
        fontSize: size,
        color,
        fontFamily: font || textFont,
        transform: `translate(-50%, -50%)${rotate ? ' rotate(-90deg)' : ''}`,
      }}
    >
      {children}
    </div>
  );
}

export default function App() {
  return (
    <div
      style={{
        position: 'absolute',
        left: 0,
        top: 0,
        width: 1094,
        height: 1037,
        overflow: 'hidden',
        background: '#ffffff',
      }}
    >
      <div style={{ position: 'absolute', left: 0, top: 560, width: 547, height: 1, background: '#ececec' }} />
      <Panel cfg={panel1} />
      <Panel cfg={panel2} />
      <Panel cfg={panel3} />
      <Panel cfg={panel4} />

      <Txt x={298} y={21} size={20} color="#333">{p1Title}</Txt>
      <Txt x={880} y={25} size={20} color="#333">{p2Title}</Txt>
      <Txt x={305} y={577} size={20} color="#333">{p3Title}</Txt>
      <Txt x={875} y={575} size={20} color="#333">{p4Title}</Txt>

      <Txt x={299} y={525} size={20} color="#222">Norm Intensity (A)</Txt>
      <Txt x={880} y={528} size={20} color="#222">Norm Intensity (A)</Txt>
      <Txt x={304} y={1025} size={20} color="#222">Norm Intensity (A)</Txt>
      <Txt x={873} y={1026} size={20} color="#222">Norm Intensity (A)</Txt>

      <Txt x={24} y={268} size={20} color="#222" rotate>Norm Intensity (B)</Txt>
      <Txt x={606} y={270} size={20} color="#222" rotate>Norm Intensity (B)</Txt>
      <Txt x={16} y={797} size={20} color="#222" rotate>Norm Intensity (B)</Txt>
      <Txt x={575} y={797} size={20} color="#222" rotate>Norm Intensity (B)</Txt>

      <Txt x={34} y={498} size={26} color="#000" font="Lato, 'Open Sans', sans-serif">(a)</Txt>
      <Txt x={45} y={1000} size={26} color="#000" font="Lato, 'Open Sans', sans-serif">(b)</Txt>
    </div>
  );
}
